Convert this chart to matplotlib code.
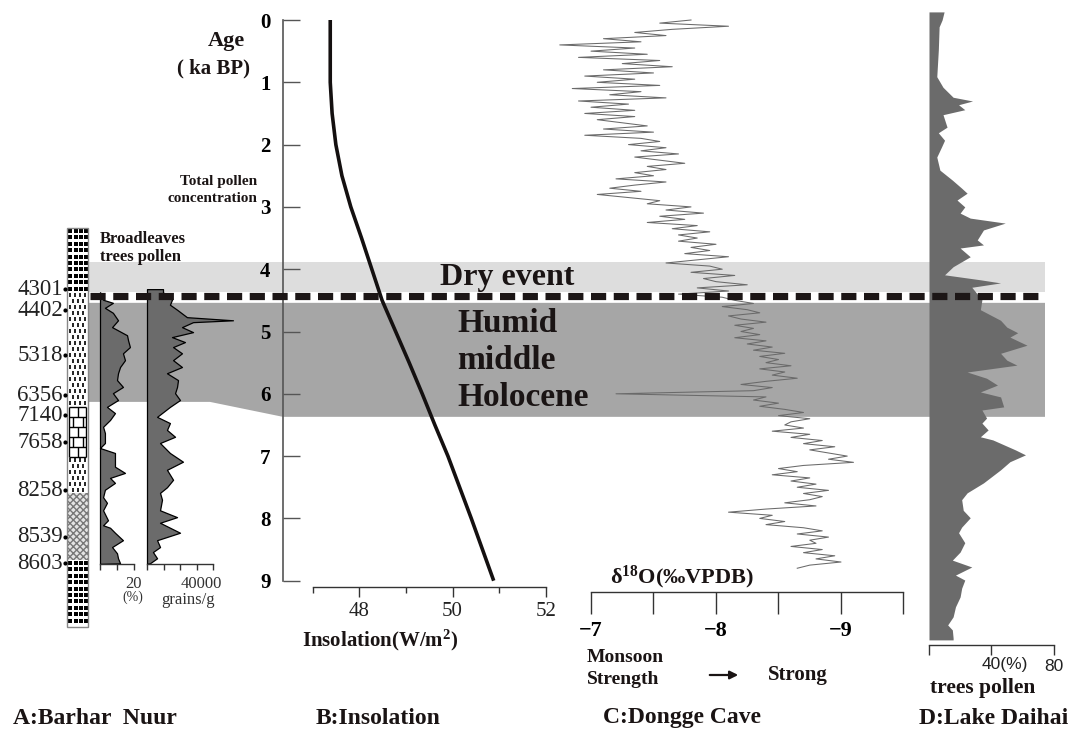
import numpy as np
import matplotlib
matplotlib.use('Agg')
import matplotlib.pyplot as plt
from matplotlib.patches import Rectangle, Polygon

plt.rcParams['font.family'] = ['Liberation Serif', 'DejaVu Serif']
plt.rcParams['mathtext.fontset'] = 'custom'
plt.rcParams['mathtext.rm'] = 'Liberation Serif:bold'
plt.rcParams['mathtext.bf'] = 'Liberation Serif:bold'
plt.rcParams['mathtext.it'] = 'Liberation Serif:bold'
plt.rcParams['mathtext.default'] = 'bf'

# ------------------------------------------------------------------ data
age_ticks = [0, 1, 2, 3, 4, 5, 6, 7, 8, 9]

# B: insolation (W/m2) vs age (ka BP)
ins_age = [0, 0.5, 1, 1.5, 2, 2.5, 3, 3.5, 4, 4.5, 5, 5.5, 6, 6.5, 7, 7.5, 8, 8.5, 9]
ins_val = [47.38, 47.38, 47.38, 47.42, 47.50, 47.63, 47.82, 48.05, 48.27, 48.49,
           48.78, 49.07, 49.35, 49.62, 49.90, 50.15, 50.40, 50.64, 50.88]

# C: Dongge Cave d18O, one value every 0.05 ka from 0 ka
dongge_step = 0.05
dongge_d18o = [
    -7.80, -7.55, -8.10, -7.65, -7.35, -7.60, -7.10, -7.40, -6.75, -7.35,
    -7.00, -7.45, -6.90, -7.55, -7.25, -7.65, -7.10, -7.50, -6.95, -7.35,
    -7.05, -7.55, -6.85, -7.40, -7.15, -7.60, -6.90, -7.30, -7.00, -7.35,
    -6.95, -7.35, -7.05, -7.25, -7.45, -7.10, -7.50, -6.95, -7.40, -7.55,
    -7.30, -7.60, -7.40, -7.70, -7.35, -7.55, -7.75, -7.45, -7.60, -7.35,
    -7.50, -7.20, -7.60, -7.35, -7.15, -7.40, -7.05, -7.30, -7.55, -7.45,
    -7.80, -7.60, -7.90, -7.55, -7.75, -7.45, -7.85, -7.65, -7.95, -7.70,
    -7.85, -7.70, -8.00, -7.80, -7.95, -7.75, -8.10, -7.85, -7.60, -7.95,
    -8.05, -7.80, -8.15, -7.90, -8.00, -8.25, -7.85, -8.10, -7.70, -8.05,
    -8.15, -8.30, -8.05, -8.25, -8.35, -8.10, -8.20, -8.40, -8.15, -8.30,
    -8.20, -8.35, -8.15, -8.40, -8.25, -8.45, -8.30, -8.55, -8.35, -8.50,
    -8.40, -8.60, -8.35, -8.55, -8.45, -8.65, -8.40, -8.20, -8.45, -8.30,
    -7.20, -8.40, -8.30, -8.50, -8.35, -8.55, -8.70, -8.50, -8.75, -8.60,
    -8.55, -8.70, -8.45, -8.75, -8.60, -8.85, -8.70, -8.95, -8.75, -8.90,
    -9.05, -8.90, -9.10, -8.70, -8.50, -8.65, -8.45, -8.75, -8.60, -8.80,
    -8.65, -8.90, -8.70, -8.85, -8.75, -8.55, -8.80, -8.40, -8.10, -8.45,
    -8.35, -8.55, -8.40, -8.70, -8.85, -8.65, -8.90, -8.75, -8.80, -8.60,
    -8.85, -8.70, -8.95, -8.80, -9.00, -8.75, -8.65]

# D: Lake Daihai trees pollen (%)
daihai_age = [-0.13, 0.00, 0.11, 0.48, 0.91, 1.08, 1.24, 1.30, 1.36, 1.44, 1.52, 1.72,
              1.81, 1.93, 2.04, 2.20, 2.41, 2.57, 2.70, 2.78, 2.89, 3.00, 3.10, 3.18,
              3.26, 3.37, 3.53, 3.61, 3.66, 3.80, 3.96, 4.09, 4.17, 4.22, 4.29, 4.49,
              4.65, 4.82, 4.93, 5.02, 5.09, 5.22, 5.35, 5.46, 5.54, 5.65, 5.75, 5.86,
              5.97, 6.05, 6.21, 6.26, 6.39, 6.47, 6.58, 6.69, 6.74, 6.90, 6.98, 7.09,
              7.22, 7.43, 7.59, 7.70, 7.87, 7.99, 8.14, 8.23, 8.39, 8.54, 8.67, 8.78,
              8.91, 8.99, 9.12, 9.26, 9.42, 9.58, 9.71, 9.79, 9.92, 9.95]
daihai_pct = [9.7, 8.4, 6.5, 6.0, 5.0, 9.0, 15.5, 28.0, 19.0, 23.0, 9.0, 11.6,
              6.0, 10.0, 8.0, 5.0, 7.0, 15.0, 21.0, 24.5, 18.0, 23.0, 20.0, 26.5,
              49.0, 35.0, 31.0, 35.0, 20.0, 26.5, 15.5, 10.0, 33.0, 46.0, 27.5, 34.0,
              33.0, 46.0, 50.0, 57.0, 52.0, 63.0, 46.0, 50.0, 56.5, 24.5, 37.0, 44.0,
              33.0, 46.0, 48.0, 34.0, 37.0, 34.0, 38.0, 33.0, 41.0, 55.5, 62.0, 52.0,
              46.0, 35.0, 24.5, 21.0, 22.0, 26.5, 21.0, 19.0, 23.0, 20.0, 15.0, 27.5,
              17.0, 23.0, 21.0, 20.0, 17.0, 15.5, 12.0, 15.0, 15.5, 15.5]

# A: Barhar Nuur broadleaves trees pollen (%)
bl_age = [4.37, 4.43, 4.49, 4.54, 4.62, 4.70, 4.82, 4.93, 5.06, 5.14, 5.25, 5.35,
          5.46, 5.57, 5.67, 5.78, 5.89, 5.99, 6.10, 6.21, 6.31, 6.42, 6.53, 6.63,
          6.79, 6.87, 6.95, 7.03, 7.17, 7.27, 7.35, 7.43, 7.54, 7.66, 7.75, 7.87,
          8.03, 8.11, 8.15, 8.23, 8.35, 8.46, 8.56, 8.64, 8.72, 8.73]
bl_pct = [0, 1.8, 1.8, 7.6, 2.9, 7.6, 10.6, 7.1, 15.9, 16.5, 17.6, 13.5,
          14.7, 11.8, 10.6, 10.0, 13.5, 7.6, 10.6, 4.1, 8.8, 5.9, 1.8, 2.9,
          2.9, 0, 8.8, 8.8, 8.8, 14.7, 5.9, 8.8, 2.9, 1.8, 4.1, 1.8,
          4.7, 1.8, 5.9, 8.8, 13.5, 7.1, 10.0, 10.6, 11.8, 0]

# A: Barhar Nuur total pollen concentration (grains/g)
tp_age = [4.32, 4.32, 4.37, 4.49, 4.57, 4.65, 4.77, 4.82, 4.85, 4.93, 5.01, 5.09,
          5.17, 5.25, 5.35, 5.46, 5.57, 5.67, 5.78, 5.89, 5.99, 6.10, 6.21, 6.37,
          6.47, 6.58, 6.69, 6.79, 6.95, 7.09, 7.22, 7.38, 7.50, 7.59, 7.70, 7.87,
          7.98, 8.07, 8.23, 8.35, 8.46, 8.54, 8.64, 8.72, 8.73]
tp_conc = [0, 9700, 9700, 15150, 13900, 18200, 24200, 52100, 27900, 21200, 27900, 15150,
           23000, 15800, 21200, 15800, 21200, 12100, 18800, 18200, 17000, 20000, 13900, 6100,
           13900, 12100, 17000, 7900, 13900, 21800, 12100, 15800, 12100, 7900, 9100, 7900,
           18200, 7900, 20000, 6100, 7900, 3600, 6100, 1800, 0]

# A: dated levels of the Barhar Nuur section (labels)
lith_labels = ['4301', '4402', '5318', '6356', '7140', '7658', '8258', '8539', '8603']

# event bands (ka BP)
dry_event = (3.88, 4.37)
dashed_age = 4.43
humid = (4.54, 6.37)
humid_left_bottom = 6.13

# ------------------------------------------------------------------ layout
W, H = 1076, 737
PX0, PXK = 20.0, 62.3           # pixel of age 0, pixels per ka
AGE_TOP = -PX0 / PXK
AGE_BOT = (H - PX0) / PXK


def age_of(py):
    return (py - PX0) / PXK


fig = plt.figure(figsize=(W / 100, H / 100), dpi=100)
fig.patch.set_facecolor('white')


def full_axes(x0, x1, z):
    ax = fig.add_axes([x0 / W, 0, (x1 - x0) / W, 1], zorder=z)
    ax.set_ylim(AGE_BOT, AGE_TOP)
    ax.patch.set_visible(False)
    for s in ax.spines.values():
        s.set_visible(False)
    ax.set_yticks([])
    ax.set_xticks([])
    return ax


# background (x in pixels, y in age)
ax_bg = full_axes(0, W, 0)
ax_bg.set_xlim(0, W)

LIGHT, DARK = '#dddddd', '#a6a6a6'
ax_bg.add_patch(Rectangle((88, dry_event[0]), 1045 - 88, dry_event[1] - dry_event[0],
                          facecolor=LIGHT, edgecolor='none'))
ax_bg.add_patch(Polygon([(88, humid[0]), (1045, humid[0]), (1045, humid[1]),
                         (283, humid[1]), (210, humid_left_bottom), (88, humid_left_bottom)],
                        closed=True, facecolor=DARK, edgecolor='none'))

# lithology column
col_x0, col_x1 = 67, 88
ax_bg.add_patch(Rectangle((col_x0, age_of(228)), col_x1 - col_x0, age_of(627) - age_of(228),
                          facecolor='white', edgecolor='none', zorder=1))


def dots(y0, y1):
    ys = np.arange(y0 + 3, y1 - 1, 6.4)
    xs = [70.0, 75.5, 81.0, 86.0]
    X, Y = np.meshgrid(xs, ys)
    ax_bg.scatter(X.ravel(), age_of(Y.ravel()), marker='s', s=6.5, c='k', lw=0, zorder=2)


def dashes(y0, y1):
    ys = np.arange(y0 + 3, y1 - 1, 6.0)
    for i, y in enumerate(ys):
        xs = [70, 75, 80, 85] if i % 2 == 0 else [72.5, 77.5, 82.5]
        ax_bg.scatter(xs, [age_of(y)] * len(xs), marker='|', s=10, c='k', linewidths=1.2, zorder=2)


def bricks(y0, y1):
    ys = np.arange(y0, y1 + 0.1, 10)
    ax_bg.hlines(age_of(ys), col_x0 + 1.5, col_x1 - 2, color='k', lw=1.0, zorder=2)
    ax_bg.vlines([col_x0 + 1.5, col_x1 - 2], age_of(y0), age_of(y1), color='k', lw=1.0, zorder=2)
    for i in range(len(ys) - 1):
        xs = [77.5] if i % 2 == 0 else [72.5, 82.5]
        ax_bg.vlines(xs, age_of(ys[i]), age_of(ys[i + 1]), color='k', lw=1.0, zorder=2)


def wavy(y0, y1):
    ax_bg.add_patch(Rectangle((col_x0, age_of(y0)), col_x1 - col_x0, age_of(y1) - age_of(y0),
                              facecolor='#e4e4e4', edgecolor='#777777', hatch='xxxxx',
                              lw=0, zorder=2))


dots(228, 292)
dashes(292, 405)
bricks(407, 457)
dashes(457, 493)
wavy(493, 560)
dots(560, 627)
ax_bg.add_patch(Rectangle((col_x0, age_of(228)), col_x1 - col_x0, age_of(627) - age_of(228),
                          facecolor='none', edgecolor='#888888', lw=1, zorder=3))

lab_y = [289, 310, 355, 395, 415, 442, 490, 537, 563]
ax_bg.scatter([65] * len(lab_y), [age_of(v) for v in lab_y], s=9, c='k', lw=0, zorder=3)
for lab, yy in zip(lith_labels, lab_y):
    ax_bg.text(63, age_of(yy), lab, ha='right', va='center', fontsize=16.5, color='#222222')

FILL = '#6b6b6b'
TICKC = '#333333'


def bottom_axis(ax, py, lo, hi):
    ax.spines['bottom'].set_visible(True)
    ax.spines['bottom'].set_position(('data', age_of(py)))
    ax.spines['bottom'].set_bounds(lo, hi)
    ax.spines['bottom'].set_color(TICKC)
    ax.spines['bottom'].set_linewidth(1.0)
    ax.xaxis.set_ticks_position('bottom')


# ---- A1 broadleaves %
axA1 = full_axes(100, 134, 1)
axA1.set_xlim(0, 20)
axA1.fill_betweenx(bl_age, 0, bl_pct, facecolor=FILL, edgecolor='k', lw=0.9, clip_on=False)
bottom_axis(axA1, 564, 0, 20)
axA1.set_xticks([0, 10, 20])
axA1.set_xticklabels(['', '', ''])
axA1.tick_params(axis='x', direction='out', length=4, width=1, color=TICKC)

# ---- A2 total pollen concentration
axA2 = full_axes(147, 213, 1)
axA2.set_xlim(0, 40000)
axA2.fill_betweenx(tp_age, 0, tp_conc, facecolor=FILL, edgecolor='k', lw=0.9, clip_on=False)
bottom_axis(axA2, 564, 0, 40000)
axA2.set_xticks([0, 10000, 20000, 30000, 40000])
axA2.set_xticklabels([''] * 5)
axA2.tick_params(axis='x', direction='out', length=4, width=1, color=TICKC)

# ---- age axis
axAge = full_axes(283, 313, 1)
axAge.spines['left'].set_visible(True)
axAge.spines['left'].set_bounds(0, 9)
axAge.spines['left'].set_color('#555555')
axAge.spines['left'].set_linewidth(1.2)
axAge.set_yticks(age_ticks)
axAge.set_yticklabels([str(a) for a in age_ticks], fontsize=15, fontweight='bold')
axAge.tick_params(axis='y', direction='in', length=12.5, width=1, color='#555555', pad=9)

# ---- B insolation
axB = full_axes(312.5, 546, 1)
axB.set_xlim(47, 52)
axB.plot(ins_val, ins_age, color='#141010', lw=2.6, solid_capstyle='butt')
bottom_axis(axB, 587, 47, 52)
axB.set_xticks([48, 50, 52])
axB.set_xticklabels(['48', '50', '52'], fontsize=15, color='#222222')
axB.set_xticks([47, 49, 51], minor=True)
axB.tick_params(axis='x', which='major', direction='out', length=7, width=1, color=TICKC, pad=4)
axB.tick_params(axis='x', which='minor', direction='out', length=4, width=1, color=TICKC)

# ---- C Dongge cave
axC = full_axes(591, 903.5, 1)
axC.set_xlim(-7, -9.5)
dongge_age = np.arange(len(dongge_d18o)) * dongge_step
axC.plot(dongge_d18o, dongge_age, color='#6a6a6a', lw=0.75, clip_on=False)
bottom_axis(axC, 592, -7, -9.5)
axC.set_xticks([-7, -8, -9])
axC.set_xticklabels(['\u22127', '\u22128', '\u22129'], fontsize=16, fontweight='bold')
axC.set_xticks([-7.5, -8.5, -9.5], minor=True)
axC.tick_params(axis='x', which='both', direction='out', length=16, width=1, color=TICKC, pad=5)

# ---- D Lake Daihai
axD = full_axes(929, 1053.5, 1)
axD.set_xlim(0, 80)
axD.fill_betweenx(daihai_age, 0, daihai_pct, color=FILL, lw=0, clip_on=False)
bottom_axis(axD, 645, 0, 80)
axD.set_xticks([0, 40, 80])
axD.set_xticklabels(['', '', '80'], fontsize=12.5, family='Liberation Sans', color='#222222')
axD.tick_params(axis='x', direction='out', length=7, width=1, color=TICKC, pad=3)

# ---- dashed line overlay
axT = full_axes(0, W, 2)
axT.set_xlim(0, W)
axT.plot([90, 1045], [dashed_age, dashed_age], color='#1c1616', lw=5.2,
         linestyle=(0, (2.1, 1.05)), dash_capstyle='butt')

# ---- text overlay (pixel coordinates)
axP = fig.add_axes([0, 0, 1, 1], zorder=3)
axP.set_xlim(0, W)
axP.set_ylim(H, 0)
axP.axis('off')

def T(x, y, s, **kw):
    kw.setdefault('fontweight', 'bold')
    kw.setdefault('color', '#1a1414')
    axP.text(x, y, s, **kw)

T(245, 41, 'Age', ha='right', va='center', fontsize=16)
T(250, 68, '( ka BP)', ha='right', va='center', fontsize=15)
T(257, 181, 'Total pollen', ha='right', va='center', fontsize=11)
T(257, 198, 'concentration', ha='right', va='center', fontsize=11)
T(100, 239, 'Broadleaves', ha='left', va='center', fontsize=12)
T(100, 257, 'trees pollen', ha='left', va='center', fontsize=12)

T(440, 285, 'Dry event', ha='left', va='baseline', fontsize=23)
T(457, 332, 'Humid', ha='left', va='baseline', fontsize=24)
T(457, 369, 'middle', ha='left', va='baseline', fontsize=24)
T(457, 406, 'Holocene', ha='left', va='baseline', fontsize=24)

T(133, 584, '20', ha='center', va='center', fontsize=12, fontweight='normal', color='#333333')
T(133, 597, '(%)', ha='center', va='center', fontsize=10, fontweight='normal', color='#333333')
T(201, 584, '40000', ha='center', va='center', fontsize=12, fontweight='normal', color='#333333')
T(188, 600, 'grains/g', ha='center', va='center', fontsize=12, fontweight='normal', color='#333333')

T(302, 640, 'Insolation(W/m$^{2}$)', ha='left', va='center', fontsize=15)
T(682, 577, '\u03b4$^{18}$O(\u2030VPDB)', ha='center', va='center', fontsize=16)
T(587, 657, 'Monsoon', ha='left', va='center', fontsize=14)
T(587, 679, 'Strength', ha='left', va='center', fontsize=14)
axP.annotate('', xy=(741, 675), xytext=(707, 675),
             arrowprops=dict(arrowstyle='-|>', lw=1.6, color='#1a1414', mutation_scale=12))
T(768, 675, 'Strong', ha='left', va='center', fontsize=15)

T(982, 665, '40(%)', ha='left', va='center', fontsize=12.5, fontweight='normal',
  family='Liberation Sans', color='#222222')
T(983, 688, 'trees pollen', ha='center', va='center', fontsize=15.5)

T(95, 718, 'A:Barhar  Nuur', ha='center', va='center', fontsize=17)
T(378, 718, 'B:Insolation', ha='center', va='center', fontsize=17)
T(682, 718, 'C:Dongge Cave', ha='center', va='center', fontsize=17)
T(994, 718, 'D:Lake Daihai', ha='center', va='center', fontsize=17)

fig.savefig('out.png', dpi=100, facecolor='white')
